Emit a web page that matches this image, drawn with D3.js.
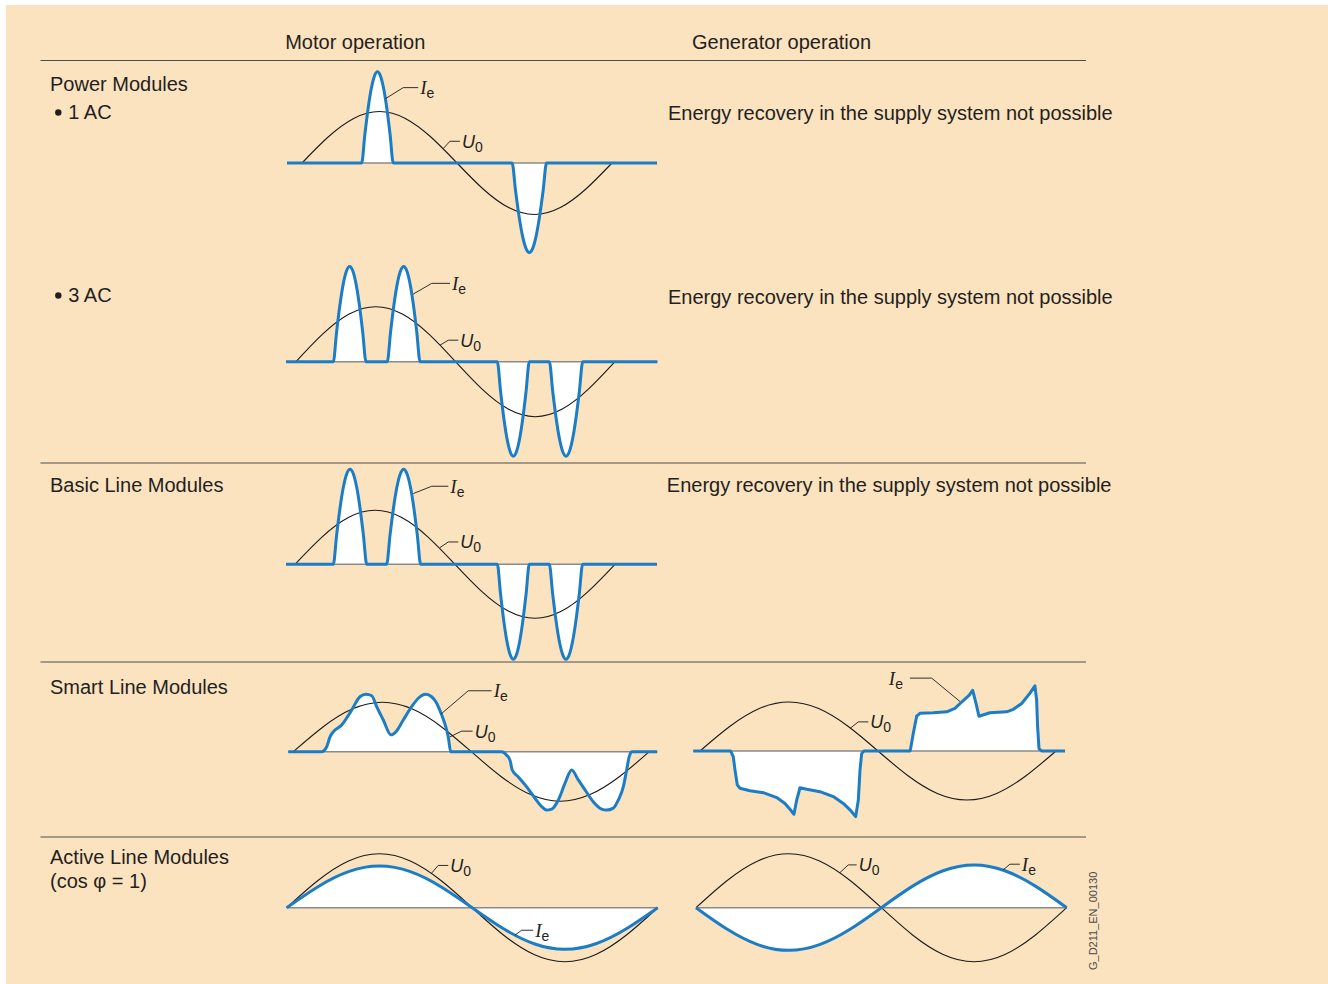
<!DOCTYPE html>
<html><head><meta charset="utf-8">
<script src="https://cdn.jsdelivr.net/npm/d3@7"></script>
<style>body{margin:0;background:#fff}svg{display:block}</style>
</head><body>
<svg id="c" width="1328" height="984"></svg>
<script>
// ================= DATA =================
const headers = ["Motor operation", "Generator operation"];
const rowTitles = ["Power Modules", "Basic Line Modules", "Smart Line Modules", "Active Line Modules", "(cos \u03C6 = 1)"];
const subRows = ["1 AC", "3 AC"];
const noRecovery = "Energy recovery in the supply system not possible";
const drawingCode = "G_D211_EN_00130";

// phase angle (deg) and supply voltage U0 (p.u.)
const phaseDeg = [0, 30, 60, 90, 120, 150, 180, 210, 240, 270, 300, 330, 360];
const supplyVoltage = [0, 0.5, 0.866, 1, 0.866, 0.5, 0, -0.5, -0.866, -1, -0.866, -0.5, 0];

// normalized current pulse profile across one pulse width
const pulseProfile = [0, 0.31, 0.59, 0.81, 0.95, 1, 0.95, 0.81, 0.59, 0.31, 0];
// pulses: [start deg, end deg, peak p.u.]
const pulses1AC = [[69.3, 106.0, 1.77], [244.0, 284.0, -1.74]];
const pulses3AC = [[42.1, 79.0, 1.73], [103.0, 140.0, 1.73], [227.2, 263.3, -1.72], [285.9, 323.6, -1.72]];
const pulsesBLM = [[43.1, 80.7, 1.76], [103.1, 141.4, 1.76], [227.6, 263.6, -1.76], [286.1, 323.6, -1.76]];

// Smart Line Module currents [deg, p.u.]
const currentSLMmotor = [
  [-5.1,0],[28.7,0],[33.8,0.10],[37.1,0.30],[40.4,0.40],[48.9,0.54],[59.0,0.84],[67.4,1.11],[73.5,1.16],
  [79.3,1.13],[84.3,0.91],[91.0,0.64],[98.8,0.34],[104.5,0.42],[111.2,0.64],[119.7,0.91],[126.4,1.08],
  [133.9,1.16],[139.9,1.11],[145.0,0.98],[150.1,0.74],[154.1,0.51],[156.7,0.30],[159.2,0],[210.7,0],
  [215.8,-0.07],[219.1,-0.17],[221.4,-0.37],[227.5,-0.51],[236.0,-0.71],[244.4,-0.94],[251.2,-1.11],
  [256.2,-1.18],[261.3,-1.16],[267.9,-0.98],[274.7,-0.64],[281.5,-0.37],[288.2,-0.57],[295.0,-0.77],
  [303.3,-1.01],[311.8,-1.16],[316.9,-1.18],[323.6,-1.14],[328.6,-0.98],[333.7,-0.71],[337.1,-0.37],
  [339.7,-0.10],[342.2,0],[368.0,0]
];
const currentSLMgen = [
  [-6.8,0],[31.0,0],[33.7,-0.12],[35.4,-0.39],[37.7,-0.69],[40.4,-0.76],[50.6,-0.81],[64.0,-0.85],
  [77.6,-0.95],[85.9,-1.07],[91.0,-1.19],[95.0,-1.29],[97.8,-1.00],[101.1,-0.75],[107.9,-0.78],
  [121.3,-0.83],[134.8,-0.93],[144.9,-1.07],[151.7,-1.20],[157.4,-1.34],[160.1,-1.00],[161.8,-0.39],
  [163.5,-0.05],[165.8,0],[212.3,0],[213.0,0.05],[215.7,0.36],[219.1,0.71],[222.4,0.77],[235.9,0.78],
  [249.4,0.80],[257.8,0.87],[266.2,1.03],[272.3,1.14],[275.7,1.24],[279.1,0.97],[282.1,0.71],
  [293.2,0.78],[310.1,0.80],[316.8,0.85],[325.3,0.97],[333.7,1.18],[338.7,1.33],[340.4,1.04],
  [341.4,0.50],[342.8,0.05],[345.5,0],[369.1,0]
];
// Active Line Module currents at phaseDeg
const currentALMmotor = [0, 0.385, 0.667, 0.77, 0.667, 0.385, 0, -0.385, -0.667, -0.77, -0.667, -0.385, 0];
const currentALMgen = [0, -0.395, -0.684, -0.79, -0.684, -0.395, 0, 0.395, 0.684, 0.79, 0.684, 0.395, 0];

// ================= HELPERS =================
function pulseTrain(range, pulses) {
  const pts = [[range[0], 0]];
  pulses.forEach(([s, e, pk]) => pulseProfile.forEach((f, i) =>
    pts.push([s + (e - s) * i / (pulseProfile.length - 1), f * pk])));
  pts.push([range[1], 0]);
  return pts;
}
const zipPhase = vals => phaseDeg.map((d, i) => [d, vals[i]]);

// ================= LAYOUT =================
const svg = d3.select("#c");
const C = {bg: "#fce3c0", ink: "#231f20", rule: "#4d4d4d", blue: "#1b7dc6", base: "#8a8a8a"};
const FONT = "'Liberation Sans', Arial, Helvetica, sans-serif";
const FS = 20;

svg.append("rect").attr("x", 6).attr("y", 5).attr("width", 1322).attr("height", 979).attr("fill", C.bg);

// rules
[60.5, 463, 662, 837].forEach(y =>
  svg.append("line").attr("x1", 40.5).attr("x2", 1086).attr("y1", y).attr("y2", y)
    .attr("stroke", C.rule).attr("stroke-width", 1));

const txt = (s, x, y, size, opts = {}) => svg.append("text").attr("x", x).attr("y", y)
  .attr("font-family", FONT).attr("font-size", size).attr("fill", opts.fill || C.ink).text(s);

txt(headers[0], 285.2, 49, FS);
txt(headers[1], 692, 49, FS);
txt(rowTitles[0], 50, 90.7, FS);
txt(rowTitles[1], 50, 492, FS);
txt(rowTitles[2], 50, 694, FS);
txt(rowTitles[3], 50, 864, FS);
txt(rowTitles[4], 50, 888, FS);
[[subRows[0], 119], [subRows[1], 302]].forEach(([s, y]) => {
  svg.append("circle").attr("cx", 58.3).attr("cy", y - 6.5).attr("r", 3.2).attr("fill", C.ink);
  txt(s, 68.3, y, FS);
});
[[668, 120], [668, 304], [666.8, 492]].forEach(([x, y]) => txt(noRecovery, x, y, FS));

svg.append("text").attr("transform", "translate(1097,970) rotate(-90)")
  .attr("font-family", FONT).attr("font-size", 11).attr("fill", "#4a4a4a").text(drawingCode);

// panels
const panels = [
  {x0: 302, x1: 612, base: 163, amp: 51.5, range: [-17.4, 412.3], cur: pulseTrain([-17.4, 412.3], pulses1AC), curve: d3.curveMonotoneX,
   labels: [{t: "I", s: "e", at: [97, 1.25], dx: 17.7, dy: -11, len: 15}, {t: "U", s: "0", at: [164, 0.28], dx: 6.7, dy: -7.3, len: 10}]},
  {x0: 296, x1: 615, base: 361.7, amp: 55, range: [-11.3, 407.8], cur: pulseTrain([-11.3, 407.8], pulses3AC), curve: d3.curveMonotoneX,
   labels: [{t: "I", s: "e", at: [132.4, 1.23], dx: 18.4, dy: -10.7, len: 18.3}, {t: "U", s: "0", at: [162.5, 0.30], dx: 8.3, dy: -5, len: 10}]},
  {x0: 295, x1: 615, base: 564.3, amp: 54, range: [-10.1, 407.2], cur: pulseTrain([-10.1, 407.2], pulsesBLM), curve: d3.curveMonotoneX,
   labels: [{t: "I", s: "e", at: [133.1, 1.31], dx: 18.4, dy: -7.3, len: 16.6}, {t: "U", s: "0", at: [163.1, 0.31], dx: 8.3, dy: -5.6, len: 10}]},
  {x0: 293.3, x1: 649.3, base: 751.7, amp: 49.5, range: [-5.1, 368], cur: currentSLMmotor, curve: d3.curveMonotoneX,
   labels: [{t: "I", s: "e", at: [149.3, 0.76], dx: 27.3, dy: -23.3, len: 23.4}, {t: "U", s: "0", at: [158.4, 0.30], dx: 11.7, dy: -5.7, len: 11}]},
  {x0: 700, x1: 1056, base: 751, amp: 49, range: [-6.8, 369.1], cur: currentSLMgen, curve: d3.curveLinear,
   labels: [{t: "I", s: "e", at: [262.9, 1.01], dx: -28.3, dy: -23.4, len: -21.7}, {t: "U", s: "0", at: [151.7, 0.46], dx: 8.3, dy: -6.6, len: 10}]},
  {x0: 286.7, x1: 657.7, base: 907.7, amp: 54, range: [0, 360], cur: zipPhase(currentALMmotor), curve: d3.curveNatural,
   labels: [{t: "U", s: "0", at: [140.6, 0.64], dx: 6.6, dy: -7.7, len: 10}, {t: "I", s: "e", at: [221.4, -0.51], dx: 6.7, dy: -5, len: 11.6}]},
  {x0: 696, x1: 1066.7, base: 907.7, amp: 54, range: [0, 360], cur: zipPhase(currentALMgen), curve: d3.curveNatural,
   labels: [{t: "U", s: "0", at: [139.8, 0.65], dx: 8.3, dy: -7.7, len: 8.4}, {t: "I", s: "e", at: [298.3, 0.70], dx: 6.7, dy: -5.7, len: 10}]}
];

const voltagePts = zipPhase(supplyVoltage);

panels.forEach(p => {
  const x = d3.scaleLinear().domain([0, 360]).range([p.x0, p.x1]);
  const y = d3.scaleLinear().domain([-1, 1]).range([p.base + p.amp, p.base - p.amp]);
  const g = svg.append("g");
  const area = d3.area().x(d => x(d[0])).y0(y(0)).y1(d => y(d[1])).curve(p.curve);
  const line = d3.line().x(d => x(d[0])).y(d => y(d[1])).curve(p.curve);
  g.append("path").attr("d", area(p.cur)).attr("fill", "#fff");
  g.append("line").attr("x1", x(p.range[0])).attr("x2", x(p.range[1])).attr("y1", y(0)).attr("y2", y(0))
    .attr("stroke", C.base).attr("stroke-width", 1.4);
  g.append("path").attr("d", d3.line().x(d => x(d[0])).y(d => y(d[1])).curve(d3.curveNatural)(voltagePts))
    .attr("fill", "none").attr("stroke", "#1a1a1a").attr("stroke-width", 1.1);
  g.append("path").attr("d", line(p.cur)).attr("fill", "none").attr("stroke", C.blue)
    .attr("stroke-width", 3).attr("stroke-linejoin", "round");
  p.labels.forEach(l => {
    const ax = x(l.at[0]), ay = y(l.at[1]);
    const ex = ax + l.dx, ey = ay + l.dy, fx = ex + l.len;
    g.append("path").attr("d", `M${ax},${ay}L${ex},${ey}L${fx},${ey}`)
      .attr("fill", "none").attr("stroke", "#1a1a1a").attr("stroke-width", 0.9);
    const t = g.append("text").attr("y", ey + 6.5).attr("fill", C.ink);
    if (l.len < 0) t.attr("x", fx - 7).attr("text-anchor", "end"); else t.attr("x", fx + 2);
    if (l.t === "I") t.append("tspan").attr("font-family", "'Liberation Serif', 'Times New Roman', serif").attr("font-style", "italic").attr("font-size", 19).text(l.t);
    else t.append("tspan").attr("font-family", FONT).attr("font-style", "italic").attr("font-size", 18).text(l.t);
    t.append("tspan").attr("font-family", FONT).attr("font-size", 14).attr("dy", 4).text(l.s);
  });
});
</script>
</body></html>
